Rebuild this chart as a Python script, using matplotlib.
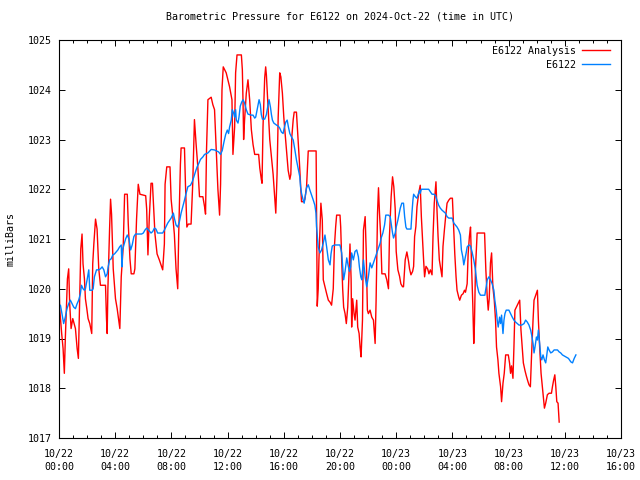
import matplotlib
matplotlib.use("Agg")
import matplotlib.pyplot as plt
from matplotlib.ticker import MultipleLocator

title = "Barometric Pressure for E6122 on 2024-Oct-22 (time in UTC)"
ylabel = "milliBars"
series_names = ["E6122 Analysis", "E6122"]
tick_hours = [0, 4, 8, 12, 16, 20, 24, 28, 32, 36, 40]
tick_labels = ["10/22\n00:00", "10/22\n04:00", "10/22\n08:00", "10/22\n12:00",
               "10/22\n16:00", "10/22\n20:00", "10/23\n00:00", "10/23\n04:00",
               "10/23\n08:00", "10/23\n12:00", "10/23\n16:00"]
y_ticks = [1017, 1018, 1019, 1020, 1021, 1022, 1023, 1024, 1025]

# hours since 2024-10-22 00:00 UTC, pressure in mbar
red_hours = [0.00, 0.05, 0.19, 0.29, 0.38, 0.45, 0.60, 0.69, 0.76, 0.86, 0.98, 1.17, 1.29, 1.38,
             1.45, 1.55, 1.64, 1.71, 1.81, 1.88, 1.98, 2.07, 2.19, 2.33, 2.40, 2.48, 2.60, 2.71,
             2.83, 2.95, 3.31, 3.38, 3.43, 3.48, 3.60, 3.67, 3.74, 3.86, 4.02, 4.14, 4.33, 4.43,
             4.57, 4.67, 4.86, 4.93, 5.05, 5.14, 5.33, 5.40, 5.52, 5.64, 5.76, 6.17, 6.24, 6.33,
             6.43, 6.55, 6.65, 6.74, 6.83, 6.98, 7.14, 7.38, 7.50, 7.55, 7.67, 7.90, 7.98, 8.10,
             8.21, 8.33, 8.45, 8.52, 8.64, 8.69, 8.93, 9.00, 9.10, 9.20, 9.40, 9.52, 9.64, 9.76,
             9.88, 10.00, 10.24, 10.36, 10.43, 10.50, 10.60, 10.83, 10.95, 11.07, 11.19, 11.31,
             11.43, 11.50, 11.60, 11.69, 11.90, 12.14, 12.31, 12.38, 12.50, 12.57, 12.67, 12.98,
             13.05, 13.10, 13.14, 13.21, 13.33, 13.45, 13.57, 13.69, 13.81, 13.93, 14.21, 14.29,
             14.40, 14.45, 14.52, 14.64, 14.71, 14.76, 14.88, 15.00, 15.12, 15.24, 15.36, 15.43,
             15.52, 15.60, 15.71, 15.79, 15.90, 16.00, 16.07, 16.19, 16.31, 16.43, 16.50, 16.57,
             16.67, 16.74, 16.90, 17.02, 17.10, 17.19, 17.26, 17.43, 17.50, 17.62, 17.74, 18.30,
             18.38, 18.45, 18.50, 18.64, 18.74, 18.81, 18.93, 19.05, 19.17, 19.29, 19.40, 19.52,
             19.60, 19.69, 19.76, 20.00, 20.05, 20.12, 20.19, 20.26, 20.36, 20.45, 20.55, 20.64,
             20.71, 20.79, 20.83, 20.90, 21.00, 21.07, 21.19, 21.26, 21.36, 21.43, 21.50, 21.60,
             21.67, 21.79, 21.86, 21.95, 22.02, 22.14, 22.26, 22.38, 22.45, 22.50, 22.57, 22.67,
             22.74, 22.81, 22.90, 22.98, 23.21, 23.33, 23.45, 23.52, 23.64, 23.74, 23.83, 23.93,
             24.00, 24.12, 24.24, 24.33, 24.45, 24.52, 24.64, 24.76, 24.88, 24.95, 25.05, 25.17,
             25.24, 25.31, 25.40, 25.48, 25.60, 25.71, 25.79, 25.86, 25.95, 26.02, 26.12, 26.24,
             26.33, 26.43, 26.55, 26.62, 26.71, 26.83, 26.90, 26.98, 27.07, 27.14, 27.26, 27.33,
             27.43, 27.52, 27.62, 27.74, 27.86, 28.00, 28.10, 28.17, 28.26, 28.33, 28.45, 28.52,
             28.64, 28.76, 28.86, 28.93, 29.05, 29.12, 29.21, 29.29, 29.36, 29.45, 29.52, 29.57,
             29.64, 29.76, 30.29, 30.38, 30.48, 30.55, 30.62, 30.71, 30.79, 30.88, 30.98, 31.07,
             31.14, 31.24, 31.31, 31.43, 31.50, 31.60, 31.69, 31.79, 31.98, 32.07, 32.14, 32.21,
             32.31, 32.38, 32.45, 32.55, 32.67, 32.79, 32.88, 32.98, 33.05, 33.17, 33.26, 33.36,
             33.45, 33.55, 33.64, 33.74, 33.81, 33.93, 34.05, 34.12, 34.21, 34.31, 34.40, 34.48,
             34.55, 34.64, 34.76, 34.88, 35.05, 35.12, 35.21, 35.29, 35.36, 35.43, 35.52, 35.60]
red_mbar = [1020.20, 1019.60, 1019.10, 1018.80, 1018.30, 1019.00, 1020.20, 1020.40, 1019.70, 1019.20,
            1019.40, 1019.20, 1018.80, 1018.60, 1019.50, 1020.80, 1021.10, 1020.50, 1020.20, 1019.80,
            1019.60, 1019.40, 1019.30, 1019.10, 1020.50, 1020.90, 1021.40, 1021.20, 1020.40, 1020.07,
            1020.07, 1019.40, 1019.10, 1020.00, 1021.20, 1021.80, 1021.50, 1020.40, 1019.80, 1019.60,
            1019.20, 1020.24, 1020.84, 1021.90, 1021.90, 1021.30, 1020.60, 1020.30, 1020.30, 1020.40,
            1021.40, 1022.10, 1021.90, 1021.87, 1021.60, 1020.68, 1021.45, 1022.12, 1022.12, 1021.60,
            1021.10, 1020.70, 1020.58, 1020.38, 1020.90, 1022.10, 1022.45, 1022.45, 1021.80, 1021.45,
            1021.10, 1020.40, 1020.00, 1021.10, 1022.50, 1022.83, 1022.83, 1022.10, 1021.24, 1021.30,
            1021.30, 1022.12, 1023.40, 1022.90, 1022.45, 1021.85, 1021.85, 1021.65, 1021.50, 1022.80,
            1023.80, 1023.85, 1023.70, 1023.60, 1022.80, 1022.00, 1021.48, 1022.10, 1024.00, 1024.46,
            1024.34, 1024.06, 1023.80, 1022.70, 1023.25, 1024.34, 1024.70, 1024.70, 1024.40, 1023.73,
            1023.00, 1023.40, 1023.93, 1024.20, 1023.80, 1023.20, 1022.90, 1022.70, 1022.70, 1022.43,
            1022.20, 1022.12, 1023.25, 1024.24, 1024.46, 1024.30, 1023.65, 1023.00, 1022.65, 1022.30,
            1021.80, 1021.52, 1022.30, 1023.45, 1024.34, 1024.26, 1023.93, 1023.45, 1023.20, 1022.80,
            1022.38, 1022.20, 1022.30, 1023.05, 1023.40, 1023.55, 1023.55, 1023.00, 1022.60, 1022.12,
            1021.75, 1021.75, 1021.80, 1022.05, 1022.77, 1022.77, 1019.65, 1020.00, 1020.58, 1021.72,
            1021.38, 1020.18, 1020.04, 1019.90, 1019.77, 1019.73, 1019.67, 1020.00, 1020.84, 1021.24,
            1021.48, 1021.48, 1021.24, 1020.58, 1020.00, 1019.63, 1019.50, 1019.30, 1019.63, 1020.30,
            1020.90, 1020.20, 1019.23, 1019.80, 1019.50, 1019.37, 1019.77, 1019.23, 1019.10, 1018.83,
            1018.63, 1019.37, 1021.18, 1021.45, 1020.80, 1019.57, 1019.50, 1019.57, 1019.43, 1019.37,
            1019.10, 1018.90, 1019.77, 1021.52, 1022.03, 1021.52, 1021.05, 1020.30, 1020.30, 1020.18,
            1020.00, 1021.05, 1021.85, 1022.25, 1022.05, 1021.60, 1020.75, 1020.38, 1020.25, 1020.10,
            1020.04, 1020.04, 1020.58, 1020.74, 1020.55, 1020.40, 1020.28, 1020.35, 1020.45, 1021.05,
            1021.25, 1021.65, 1021.92, 1022.08, 1021.45, 1021.05, 1020.58, 1020.24, 1020.45, 1020.40,
            1020.30, 1020.38, 1020.28, 1021.05, 1021.72, 1022.15, 1021.60, 1021.05, 1020.58, 1020.45,
            1020.24, 1020.85, 1021.18, 1021.45, 1021.72, 1021.78, 1021.82, 1021.82, 1021.18, 1020.70,
            1020.24, 1019.97, 1019.83, 1019.77, 1019.87, 1019.90, 1019.97, 1019.93, 1020.10, 1020.70,
            1021.05, 1021.24, 1020.50, 1019.70, 1018.90, 1019.30, 1020.38, 1021.12, 1021.12, 1020.38,
            1019.83, 1019.57, 1019.80, 1020.52, 1020.72, 1020.04, 1019.77, 1019.37, 1018.83, 1018.57,
            1018.30, 1018.03, 1017.73, 1018.10, 1018.30, 1018.67, 1018.67, 1018.50, 1018.30, 1018.45,
            1018.20, 1018.83, 1019.57, 1019.63, 1019.70, 1019.77, 1019.17, 1018.77, 1018.51, 1018.35,
            1018.25, 1018.15, 1018.07, 1018.03, 1018.71, 1019.37, 1019.77, 1019.87, 1019.97, 1019.37,
            1018.83, 1018.30, 1018.03, 1017.77, 1017.60, 1017.70, 1017.87, 1017.90, 1017.90, 1018.03,
            1018.17, 1018.27, 1018.03, 1017.73, 1017.70, 1017.32]

blue_hours = [0.00, 0.10, 0.21, 0.33, 0.45, 0.57, 0.69, 0.81, 0.93, 1.05, 1.17, 1.29, 1.40, 1.52,
              1.60, 1.71, 1.81, 1.88, 2.00, 2.12, 2.19, 2.36, 2.43, 2.52, 2.67, 2.83, 2.95, 3.07,
              3.19, 3.31, 3.43, 3.50, 3.60, 3.71, 3.83, 3.95, 4.07, 4.19, 4.31, 4.43, 4.48, 4.52,
              4.62, 4.74, 4.86, 4.98, 5.10, 5.21, 5.33, 5.45, 5.88, 6.00, 6.12, 6.24, 6.31, 6.55,
              6.67, 6.79, 6.90, 7.02, 7.26, 7.38, 7.50, 7.74, 7.98, 8.14, 8.21, 8.33, 8.45, 8.57,
              8.69, 8.81, 8.93, 9.05, 9.17, 9.36, 9.48, 9.60, 9.71, 9.83, 9.95, 10.07, 10.24, 10.36,
              10.60, 10.83, 11.07, 11.36, 11.50, 11.62, 11.74, 11.86, 11.98, 12.07, 12.14, 12.26,
              12.33, 12.43, 12.50, 12.57, 12.62, 12.74, 12.81, 12.90, 13.00, 13.10, 13.21, 13.33,
              13.45, 13.69, 13.81, 13.93, 14.00, 14.10, 14.19, 14.24, 14.33, 14.40, 14.48, 14.64,
              14.76, 14.88, 14.95, 15.05, 15.12, 15.19, 15.29, 15.48, 15.60, 15.71, 15.83, 15.95,
              16.02, 16.14, 16.24, 16.33, 16.43, 16.55, 16.67, 16.79, 16.90, 17.02, 17.14, 17.19,
              17.26, 17.38, 17.45, 17.52, 17.62, 17.74, 17.86, 17.98, 18.10, 18.21, 18.29, 18.33,
              18.45, 18.57, 18.69, 18.81, 18.93, 19.05, 19.17, 19.29, 19.36, 19.45, 19.64, 20.00,
              20.12, 20.19, 20.26, 20.36, 20.48, 20.60, 20.67, 20.76, 20.83, 20.95, 21.07, 21.19,
              21.31, 21.38, 21.48, 21.55, 21.67, 21.79, 21.90, 22.02, 22.14, 22.26, 22.38, 22.50,
              22.62, 22.74, 22.86, 22.93, 23.05, 23.17, 23.26, 23.45, 23.57, 23.64, 23.74, 23.81,
              23.93, 24.00, 24.12, 24.29, 24.40, 24.52, 24.60, 24.69, 24.76, 25.05, 25.12, 25.19,
              25.24, 25.36, 25.48, 25.60, 25.67, 25.71, 25.79, 26.31, 26.43, 26.55, 26.67, 26.79,
              26.90, 27.02, 27.14, 27.26, 27.50, 27.62, 27.74, 27.98, 28.10, 28.21, 28.33, 28.45,
              28.57, 28.64, 28.74, 28.81, 28.88, 28.98, 29.05, 29.17, 29.29, 29.40, 29.52, 29.64,
              29.76, 29.88, 30.00, 30.31, 30.40, 30.48, 30.60, 30.71, 30.83, 30.95, 31.02, 31.12,
              31.19, 31.26, 31.36, 31.43, 31.50, 31.60, 31.67, 31.74, 31.83, 32.02, 32.14, 32.26,
              32.38, 32.50, 32.62, 32.74, 32.93, 33.10, 33.21, 33.33, 33.45, 33.57, 33.64, 33.74,
              33.81, 33.88, 33.98, 34.05, 34.12, 34.21, 34.29, 34.36, 34.45, 34.55, 34.64, 34.71,
              34.79, 34.88, 35.00, 35.12, 35.24, 35.48, 35.60, 35.71, 35.83, 36.07, 36.26, 36.43,
              36.55, 36.67, 36.79]
blue_mbar = [1019.63, 1019.67, 1019.50, 1019.30, 1019.43, 1019.60, 1019.70, 1019.77, 1019.70, 1019.63,
             1019.60, 1019.70, 1019.77, 1019.90, 1020.07, 1020.00, 1019.97, 1020.00, 1020.18, 1020.38,
             1019.97, 1019.97, 1020.00, 1020.24, 1020.38, 1020.38, 1020.40, 1020.44, 1020.38, 1020.24,
             1020.30, 1020.44, 1020.58, 1020.60, 1020.68, 1020.70, 1020.74, 1020.78, 1020.84, 1020.88,
             1020.44, 1020.78, 1020.88, 1021.00, 1021.08, 1021.00, 1020.78, 1020.88, 1021.05, 1021.10,
             1021.10, 1021.12, 1021.18, 1021.22, 1021.20, 1021.12, 1021.15, 1021.22, 1021.20, 1021.12,
             1021.12, 1021.12, 1021.18, 1021.32, 1021.42, 1021.52, 1021.42, 1021.28, 1021.24, 1021.35,
             1021.52, 1021.65, 1021.78, 1021.92, 1022.05, 1022.08, 1022.15, 1022.25, 1022.35, 1022.45,
             1022.52, 1022.60, 1022.65, 1022.70, 1022.73, 1022.80, 1022.79, 1022.75, 1022.70, 1022.78,
             1022.95, 1023.10, 1023.19, 1023.12, 1023.25, 1023.39, 1023.60, 1023.53, 1023.45, 1023.60,
             1023.39, 1023.33, 1023.45, 1023.67, 1023.75, 1023.80, 1023.73, 1023.60, 1023.51, 1023.49,
             1023.49, 1023.43, 1023.45, 1023.60, 1023.73, 1023.80, 1023.70, 1023.50, 1023.41, 1023.41,
             1023.50, 1023.70, 1023.80, 1023.65, 1023.50, 1023.39, 1023.33, 1023.29, 1023.27, 1023.23,
             1023.15, 1023.12, 1023.22, 1023.35, 1023.39, 1023.25, 1023.12, 1023.05, 1022.99, 1022.79,
             1022.59, 1022.42, 1022.25, 1022.05, 1021.92, 1021.78, 1021.72, 1021.85, 1022.03, 1022.09,
             1021.98, 1021.88, 1021.78, 1021.68, 1021.52, 1021.25, 1020.84, 1020.72, 1020.78, 1020.92,
             1021.08, 1020.84, 1020.58, 1020.48, 1020.70, 1020.86, 1020.88, 1020.88, 1020.72, 1020.44,
             1020.18, 1020.35, 1020.62, 1020.44, 1020.35, 1020.44, 1020.72, 1020.58, 1020.75, 1020.78,
             1020.64, 1020.44, 1020.24, 1020.18, 1020.58, 1020.24, 1020.04, 1020.24, 1020.52, 1020.42,
             1020.52, 1020.62, 1020.72, 1020.82, 1020.92, 1021.02, 1021.12, 1021.28, 1021.48, 1021.48,
             1021.45, 1021.32, 1021.12, 1021.02, 1021.12, 1021.24, 1021.38, 1021.62, 1021.72, 1021.72,
             1021.45, 1021.24, 1021.20, 1021.20, 1021.52, 1021.78, 1021.90, 1021.85, 1021.82, 1021.92,
             1021.98, 1021.92, 1022.00, 1022.00, 1021.95, 1021.90, 1021.90, 1021.88, 1021.78, 1021.68,
             1021.62, 1021.58, 1021.52, 1021.45, 1021.42, 1021.42, 1021.32, 1021.28, 1021.24, 1021.18,
             1021.08, 1020.78, 1020.64, 1020.48, 1020.58, 1020.72, 1020.84, 1020.88, 1020.86, 1020.74,
             1020.58, 1020.38, 1020.07, 1019.93, 1019.87, 1019.87, 1020.04, 1020.18, 1020.24, 1020.18,
             1020.10, 1019.97, 1019.77, 1019.57, 1019.37, 1019.23, 1019.43, 1019.30, 1019.47, 1019.10,
             1019.37, 1019.50, 1019.57, 1019.57, 1019.50, 1019.43, 1019.37, 1019.33, 1019.30, 1019.27,
             1019.27, 1019.30, 1019.37, 1019.33, 1019.27, 1019.17, 1019.07, 1018.90, 1018.71, 1018.83,
             1019.03, 1018.97, 1019.17, 1018.90, 1018.63, 1018.57, 1018.67, 1018.57, 1018.51, 1018.65,
             1018.83, 1018.77, 1018.71, 1018.73, 1018.77, 1018.77, 1018.73, 1018.71, 1018.67, 1018.63,
             1018.60, 1018.53, 1018.51, 1018.60, 1018.67]

font = "DejaVu Sans Mono"
fs = 7.2

fig = plt.figure(figsize=(6.4, 4.8), dpi=100)
ax = fig.add_axes([59 / 640, 1 - 438 / 480, (621 - 59) / 640, (438 - 40) / 480])

ax.plot(red_hours, red_mbar, color="#ff0000", lw=1.0, label=series_names[0])
ax.plot(blue_hours, blue_mbar, color="#0080ff", lw=1.0, label=series_names[1])

ax.set_xlim(0, 40)
ax.set_ylim(1017, 1025)
ax.set_xticks(tick_hours)
ax.set_xticklabels(tick_labels, fontfamily=font, fontsize=fs, linespacing=1.4)
ax.xaxis.set_minor_locator(MultipleLocator(1))
ax.set_yticks(y_ticks)
ax.set_yticklabels([str(v) for v in y_ticks], fontfamily=font, fontsize=fs)
ax.tick_params(which="major", direction="in", length=4.5, width=0.7, top=True, right=True, color="black")
ax.tick_params(which="minor", direction="in", length=2.2, width=0.7, top=True, right=True, color="black")
ax.tick_params(axis="x", which="major", pad=8)
ax.tick_params(axis="y", which="major", pad=5)
for s in ax.spines.values():
    s.set_linewidth(0.8)
    s.set_color("black")

ax.set_title(title, fontfamily=font, fontsize=fs, pad=15)
ax.set_ylabel(ylabel, fontfamily=font, fontsize=fs, labelpad=9)

leg = ax.legend(loc="upper right", bbox_to_anchor=(0.989, 0.998), frameon=False,
                markerfirst=False, prop={"family": font, "size": fs}, handlelength=2.8,
                handletextpad=0.6, labelspacing=0.4, borderaxespad=0.3,
                borderpad=0.2)

fig.savefig("out.png", dpi=100)
